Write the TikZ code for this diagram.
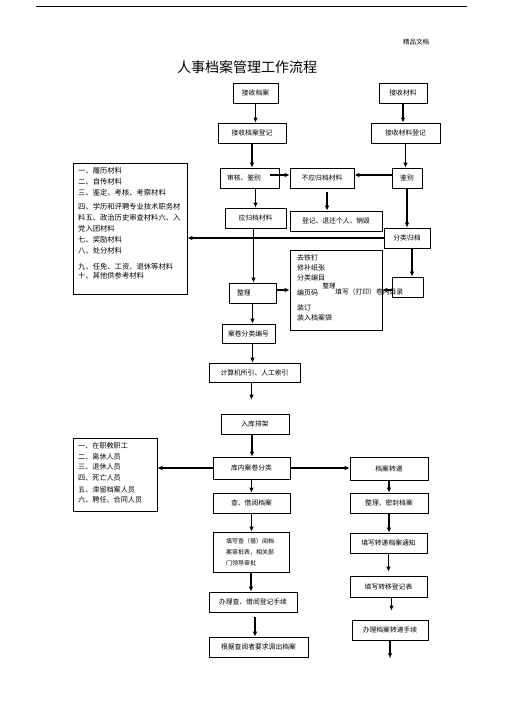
\documentclass[tikz,border=0pt]{standalone}
\usepackage{fontspec}
\newfontfamily\cjk{Noto Sans CJK SC}
\usetikzlibrary{arrows.meta,calc}

\begin{document}
\begin{tikzpicture}[x=1pt,y=-1pt,
    box/.style={draw, line width=0.7pt, inner sep=1pt, font=\cjk\fontsize{6.8}{9}\selectfont},
    wh/.style 2 args={minimum width=#1pt, minimum height=#2pt},
    lines/.style={inner sep=0pt, align=left, anchor=north west},
    arr/.style={line width=1.1pt, -{Latex[length=5pt,width=4.5pt]}}]
    \useasboundingbox (0,0) rectangle (505,714);

    % Head
    \draw[line width=0.8pt] (36,6) -- (467,6);
    \node[font=\cjk\fontsize{6.5}{8}\selectfont] (jpwd) at (416,42) {精品文档};
    \node[font=\cjk\fontsize{14}{16}\selectfont] (title) at (247,67) {人事档案管理工作流程};

    % Receiving
    \node[box, wh={45}{20}] (jsda) at (255.5,93) {接收档案};
    \node[box, wh={48}{20}] (jscl) at (403,93) {接收材料};
    \node[box, wh={68}{20}] (jsdadj) at (252,133) {接收档案登记};
    \node[box, wh={69}{20}] (jscldj) at (405.5,133) {接收材料登记};

    % Checking
    \node[box, wh={59}{20}, text width=45pt, inner xsep=7pt] (shjb) at (249.5,178) {审核、鉴别};
    \node[box, wh={64}{20}] (byg) at (322,178) {不应归档材料};
    \node[box, wh={30}{20}] (jb) at (407,178) {鉴别};
    \node[box, wh={61}{20}] (yg) at (255.5,218) {应归档材料};
    \node[box, wh={92}{20}] (djth) at (336,221) {登记、退还个人、销毁};
    \node[box, wh={46}{20}] (flgd) at (407,238) {分类归档};

    % Materials list
    \node[box, wh={114}{131}] (left1) at (130,228.5) {};
    \node[lines, font=\cjk\fontsize{7.3}{11}\selectfont] (left1txt) at (78,167.5) {%
        一、履历材料\\
        二、自传材料\\
        三、鉴定、考核、考察材料\\[3pt]
        四、学历和评聘专业技术职务材\\
        料五、政治历史审查材料六、入\\
        党入团材料\\
        七、奖励材料\\
        八、处分材料\\[5pt]
        九、任免、工资、退休等材料\\[-2pt]
        十、其他供参考材料};

    % Sorting
    \node[box, wh={92}{80}] (xm) at (336,290) {};
    \node[lines, font=\cjk\fontsize{7}{10}\selectfont] (xmtxt) at (297,254.5) {%
        去铁钉\\
        修补纸张\\
        分类编目\\[5pt]
        编页码\\[5pt]
        装订\\
        装入档案袋};
    \node[font=\cjk\fontsize{6.5}{8}\selectfont, inner sep=0pt] (xmzl) at (329,285.5) {整理};
    \node[font=\cjk\fontsize{6.8}{8}\selectfont, inner sep=0pt, anchor=west] (xmml) at (335,292) {填写（打印）卷内目录};
    \node[box, wh={31}{20}] (sb) at (407.5,287) {};
    \node[box, wh={47}{20}, text width=31pt, inner xsep=8pt] (zl) at (252.5,293) {整理};
    \node[box, wh={53}{19}] (ajfl) at (248.5,333.5) {案卷分类编号};
    \node[box, wh={91}{19}] (jsj) at (254.5,372.5) {计算机所引、人工索引};
    \node[box, wh={68}{20}] (rk) at (255,424) {入库排架};

    % Persons list
    \node[box, wh={84}{73}] (left2) at (115,474.5) {};
    \node[lines, font=\cjk\fontsize{7.1}{10.5}\selectfont] (left2txt) at (78,442.5) {%
        一、在职教职工\\
        二、离休人员\\
        三、退休人员\\
        四、死亡人员\\[1.5pt]
        五、滞留档案人员\\
        六、聘任、合同人员};

    % Consulting
    \node[box, wh={77}{22}] (knfl) at (251.5,468) {库内案卷分类};
    \node[box, wh={77}{20}] (cjy) at (251.5,503) {查、借阅档案};
    \node[box, wh={76}{40}, text width=50pt, inner xsep=13pt, align=left,
          font=\cjk\fontsize{6}{11}\selectfont] (txsp) at (251,552) {填写查（借）阅档\\案审批表，相关部\\门领导审批};
    \node[box, wh={88}{20}] (blcj) at (253,602) {办理查、借阅登记手续};
    \node[box, wh={99}{20}] (gjdc) at (258.5,647) {根据查阅者要求调出档案};

    % Transferring
    \node[box, wh={78}{23}] (dazd) at (389,468.5) {档案转递};
    \node[box, wh={78}{20}] (zlmf) at (389,503) {整理、密封档案};
    \node[box, wh={77}{20}] (txtz) at (388.5,543) {填写转递档案通知};
    \node[box, wh={77}{21}] (txdj) at (388.5,586.5) {填写转移登记表};
    \node[box, wh={76}{20}] (blzd) at (390,630) {办理档案转递手续};
    \coordinate (bend) at ($(blzd.south)+(0,18)$);

    % Arrows
    \draw[arr] (jsda.south) -- (jsda.south |- jsdadj.north);
    \draw[arr] (jscl.south) -- (jscl.south |- jscldj.north);
    \draw[arr] (jsdadj.south) -- (jsdadj.south |- shjb.north);
    \draw[arr] (jscldj.south) -- (jscldj.south |- jb.north);
    \draw[arr] ($(shjb.east)+(-9,-3)$) -- ($(shjb.east -| byg.west)+(0,-3)$);
    \draw[arr] ($(jb.west)+(0,-3)$) -- ($(jb.west -| byg.east)+(0,-3)$);
    \draw[arr] (yg.north |- shjb.south) -- (yg.north);
    \draw[arr] ($(byg.south)+(5,4)$) -- ($(byg.south |- djth.north)+(5,0)$);
    \draw[arr] (jb.south) -- (flgd.north);
    \draw[arr] ($(flgd.south)+(5,0)$) -- ($(flgd.south |- sb.north)+(5,0)$);
    \draw[arr] ($(yg.south)+(-2,0)$) -- ($(yg.south |- zl.north)+(-2,0)$);
    \draw[arr] (flgd.west) -- (flgd.west -| left1.east);
    \draw[arr] ($(zl.east)+(0,-3)$) -- ($(zl.east -| xm.west)+(0,-3)$);
    \draw[arr] ($(sb.west)+(0,3)$) -- ($(sb.west -| xm.east)+(0,3)$);
    \draw[arr] (zl.south) -- (zl.south |- ajfl.north);
    \draw[arr] (zl.south |- ajfl.south) -- (zl.south |- jsj.north);
    \draw[arr] ($(jsj.south)+(-3,0)$) -- ($(jsj.south |- rk.north)+(-3,-14)$);
    \draw[arr] ($(rk.south)+(-3,0)$) -- ($(rk.south |- knfl.north)+(-3,0)$);
    \draw[arr] (knfl.west) -- (knfl.west -| left2.east);
    \draw[arr] (knfl.east) -- (knfl.east -| dazd.west);
    \draw[arr] (knfl.south) -- (cjy.north);
    \draw[arr] (cjy.south) -- (cjy.south |- txsp.north);
    \draw[arr] (txsp.south) -- (txsp.south |- blcj.north);
    \draw[arr] ($(blcj.south)+(2,5)$) -- ($(blcj.south |- gjdc.north)+(2,0)$);
    \draw[arr] (dazd.south) -- (dazd.south |- zlmf.north);
    \draw[arr] (zlmf.south) -- (zlmf.south |- txtz.north);
    \draw[arr] (txtz.south) -- ($(txtz.south |- txdj.north)+(0,-4)$);
    \draw[arr] ($(txdj.south)+(3,0)$) -- ($(txdj.south |- blzd.north)+(3,-9)$);
    \draw[arr] (blzd.south) -- (bend);
\end{tikzpicture}
\end{document}
